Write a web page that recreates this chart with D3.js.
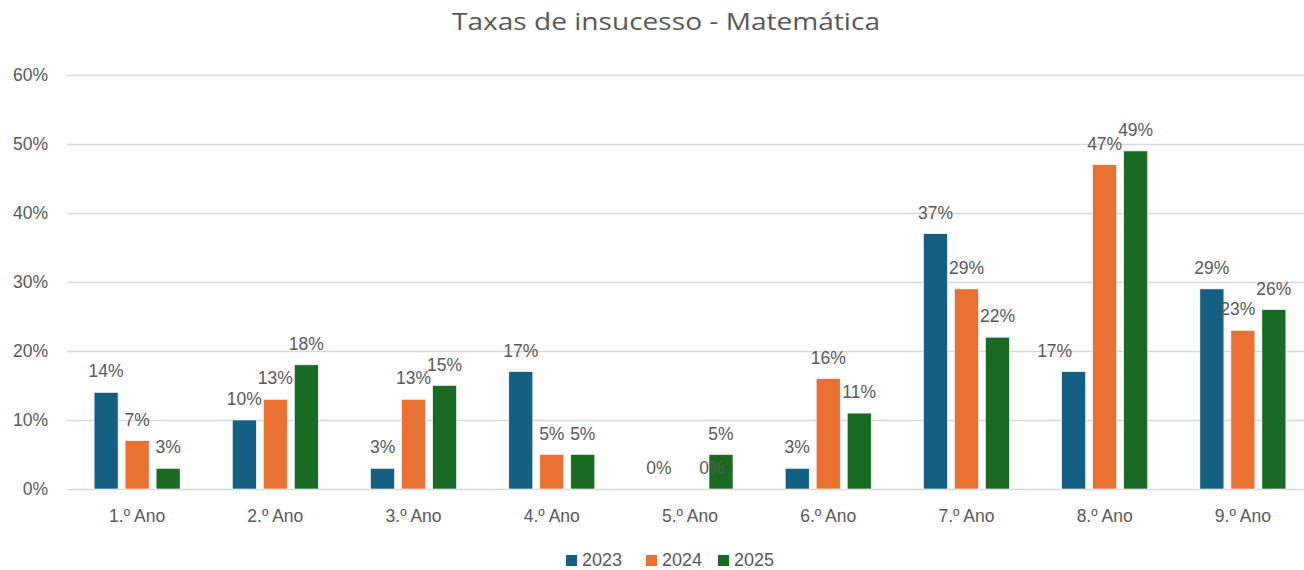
<!DOCTYPE html>
<head>
<meta charset="utf-8">
<script src="https://d3js.org/d3.v7.min.js"></script>
<style>
body { margin:0; background:#fff; }
text { font-family: "Liberation Sans", Arial, sans-serif; fill:#595959; }
</style>
</head>
<body>
<script>

var categories = ["1.º Ano","2.º Ano","3.º Ano","4.º Ano","5.º Ano","6.º Ano","7.º Ano","8.º Ano","9.º Ano"];
var seriesNames = ["2023","2024","2025"];
var v2023 = [14,10,3,17,0,3,37,17,29];
var v2024 = [7,13,13,5,0,16,29,47,23];
var v2025 = [3,18,15,5,5,11,22,49,26];
var yTicks = [0,10,20,30,40,50,60];
var colors = ["#156082","#e97132","#196b24"];

var values = [v2023, v2024, v2025];

// label nudges where Excel moved labels aside
var labelShift = { "7-0": -19, "4-1": 22, "8-1": -5 };

var width = 1304, height = 570;

var svg = d3.select("body").append("svg")
    .attr("width", width)
    .attr("height", height);

var x = d3.scaleBand()
    .domain(categories)
    .range([68, 1312]);

var y = d3.scaleLinear()
    .domain([0, 60])
    .range([489, 75]);

var barW = 24, step = 31;

svg.append("text")
    .attr("x", 666)
    .attr("y", 30)
    .attr("text-anchor", "middle")
    .attr("textLength", 428)
    .attr("lengthAdjust", "spacingAndGlyphs")
    .style("font-family", "'Open Sans', 'Noto Sans', sans-serif")
    .style("font-size", "24px")
    .text("Taxas de insucesso - Matemática");

// gridlines
svg.append("g").selectAll("line")
  .data(yTicks)
  .enter().append("line")
  .attr("x1", 67).attr("x2", width)
  .attr("y1", function(d) { return Math.round(y(d)) + 0.5; })
  .attr("y2", function(d) { return Math.round(y(d)) + 0.5; })
  .style("stroke", "#d9d9d9")
  .style("stroke-width", 1.5);

svg.append("g").selectAll("text")
  .data(yTicks)
  .enter().append("text")
  .attr("x", 48)
  .attr("y", function(d) { return y(d) + 6; })
  .attr("text-anchor", "end")
  .style("font-size", "17.5px")
  .text(function(d) { return d + "%"; });

svg.append("g").selectAll("text")
  .data(categories)
  .enter().append("text")
  .attr("x", function(d) { return x(d) + x.bandwidth() / 2; })
  .attr("y", 522)
  .attr("text-anchor", "middle")
  .style("font-size", "17.5px")
  .text(function(d) { return d; });

var cells = [];
categories.forEach(function(c, i) {
  values.forEach(function(vals, s) {
    cells.push({ cat: c, ci: i, s: s, v: vals[i] });
  });
});

function barX(d) { return x(d.cat) + x.bandwidth() / 2 + (d.s - 1) * step - barW / 2; }

svg.append("g").selectAll("rect")
  .data(cells.filter(function(d) { return d.v > 0; }))
  .enter().append("rect")
  .attr("x", barX)
  .attr("y", function(d) { return y(d.v); })
  .attr("width", barW)
  .attr("height", function(d) { return y(0) - y(d.v); })
  .style("fill", function(d) { return colors[d.s]; })
  .style("stroke", "#fff")
  .style("stroke-width", 0.6);

svg.append("g").selectAll("text")
  .data(cells)
  .enter().append("text")
  .attr("x", function(d) { return barX(d) + barW / 2 + (labelShift[d.ci + "-" + d.s] || 0); })
  .attr("y", function(d) { return y(d.v) - 15; })
  .attr("text-anchor", "middle")
  .style("font-size", "17.5px")
  .text(function(d) { return d.v + "%"; });

// legend
var legX = [566, 646, 718];
var leg = svg.append("g").selectAll("g")
  .data(seriesNames)
  .enter().append("g")
  .attr("transform", function(d, i) { return "translate(" + legX[i] + ",555)"; });

leg.append("rect")
  .attr("width", 11).attr("height", 11)
  .style("fill", function(d, i) { return colors[i]; });

leg.append("text")
  .attr("x", 16)
  .attr("y", 11)
  .style("font-size", "18px")
  .text(function(d) { return d; });

</script>
</body>
